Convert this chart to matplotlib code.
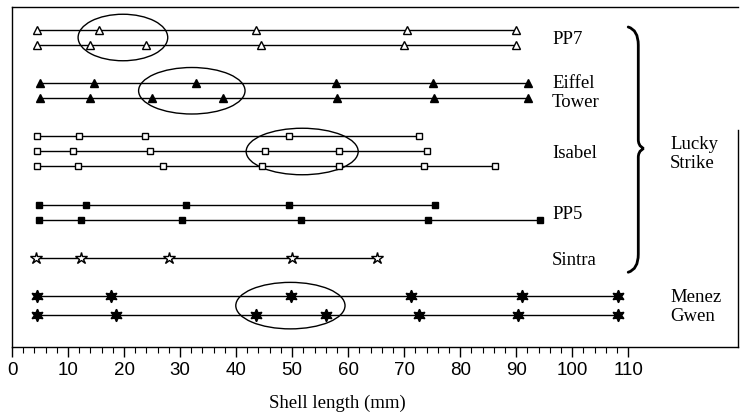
import numpy as np
import matplotlib.pyplot as plt
from matplotlib.patches import Ellipse, PathPatch
from matplotlib.path import Path

# shell lengths (mm) per vent field, one list per row (cohort series)
pp7 = [[4.5, 15.5, 43.5, 70.5, 90],
       [4.5, 14, 24, 44.5, 70, 90]]
eiffel = [[5, 14.7, 32.8, 57.8, 75.2, 92.2],
          [5, 14, 25, 37.6, 58, 75.4, 92.2]]
isabel = [[4.5, 12, 23.8, 49.4, 72.6],
          [4.5, 10.8, 24.6, 45.2, 58.3, 74],
          [4.5, 11.7, 27, 44.6, 58.4, 73.6, 86.3]]
pp5 = [[4.9, 13.2, 31.1, 49.5, 75.5],
       [4.9, 12.3, 30.3, 51.6, 74.3, 94.2]]
sintra = [[4.3, 12.4, 28, 49.9, 65.1]]
menez = [[4.5, 17.7, 49.8, 71.3, 91, 108.2],
         [4.5, 18.6, 43.5, 56.1, 72.7, 90.4, 108.2]]

groups = [pp7, eiffel, isabel, pp5, sintra, menez]
names = ["PP7", "Eiffel\nTower", "Isabel", "PP5", "Sintra", "Menez\nGwen"]

# circled modes: (group index, x centre, width in mm)
circled = [(0, 19.8, 16), (1, 32.1, 19), (2, 51.8, 20), (5, 49.7, 19.5)]

serif = "Liberation Serif"

fig = plt.figure(figsize=(7.4, 4.15), dpi=100)
ax = fig.add_axes([12/740, 1 - 347/415, 726/740, 340/415])

# row positions: 1 unit between rows, bigger gap between sites
row_y = []
y = 2.0
for i, g in enumerate(groups):
    step = 1.25 if i == 5 else 1.0
    ys = []
    for _ in g:
        ys.append(y)
        y += step
    row_y.append(ys)
    y += 2.55 - step

styles = [
    dict(marker="^", mfc="white", mec="black", ms=6),
    dict(marker="^", mfc="black", mec="black", ms=6),
    dict(marker="s", mfc="white", mec="black", ms=4.5),
    dict(marker="s", mfc="black", mec="black", ms=4),
    dict(marker="*", mfc="white", mec="black", ms=9),
    dict(marker=(6, 1, 0), mfc="black", mec="black", ms=9),
]

for g, ys, st in zip(groups, row_y, styles):
    for row, yy in zip(g, ys):
        ax.plot(row, [yy] * len(row), color="black", lw=1, mew=1, **st)

for gi, xc, w in circled:
    yc = np.mean(row_y[gi])
    ax.add_patch(Ellipse((xc, yc), w, 3.1, fill=False, ec="black", lw=1))

# site labels
for name, ys in zip(names[:5], row_y[:5]):
    ax.text(96.4, np.mean(ys) + 0.15, name, fontsize=13.5, family=serif,
            va="center", ha="left", linespacing=1.15)
ax.text(117.5, np.mean(row_y[5]) + 0.1, names[5], fontsize=13.5, family=serif,
        va="center", ha="left", linespacing=1.15)

# brace grouping the Lucky Strike sites
top = row_y[0][0] - 0.2
bot = row_y[4][0] + 0.95
mid = row_y[2][1] - 0.2
verts = [(110, top), (111.8, top + 0.2), (111.8, top + 1.2),
         (111.8, mid - 0.6),
         (111.8, mid - 0.1), (112.8, mid), (112.8, mid),
         (112.8, mid), (111.8, mid + 0.1), (111.8, mid + 0.6),
         (111.8, bot - 1.2),
         (111.8, bot - 0.2), (110, bot)]
codes = [Path.MOVETO, Path.CURVE3, Path.CURVE3, Path.LINETO,
         Path.CURVE4, Path.CURVE4, Path.CURVE4,
         Path.CURVE4, Path.CURVE4, Path.CURVE4,
         Path.LINETO, Path.CURVE3, Path.CURVE3]
ax.add_patch(PathPatch(Path(verts, codes), fill=False, lw=2, ec="black",
                       capstyle="round"))
ax.text(117.5, mid + 0.35, "Lucky\nStrike", fontsize=13.5, family=serif,
        va="center", ha="left", linespacing=1.15)

ax.set_xlim(0, 129.6)
ax.set_ylim(347 / 15, 7 / 15)
ax.set_yticks([])
ax.set_xticks(np.arange(0, 111, 10))
ax.set_xticks(np.arange(0, 111, 2), minor=True)
ax.tick_params(axis="x", which="major", length=7, width=1, pad=4,
               labelsize=13.5)
ax.tick_params(axis="x", which="minor", length=4, width=0.8)
for lab in ax.get_xticklabels():
    lab.set_family("Liberation Sans")
ax.spines["right"].set_bounds(347 / 15, 130 / 15)
for s in ax.spines.values():
    s.set_linewidth(1)
ax.set_xlabel("Shell length (mm)", fontsize=13.5, family=serif)
ax.xaxis.label.set_va("center")
ax.xaxis.set_label_coords(0.448, -0.165)

fig.savefig("out.png", dpi=100)
